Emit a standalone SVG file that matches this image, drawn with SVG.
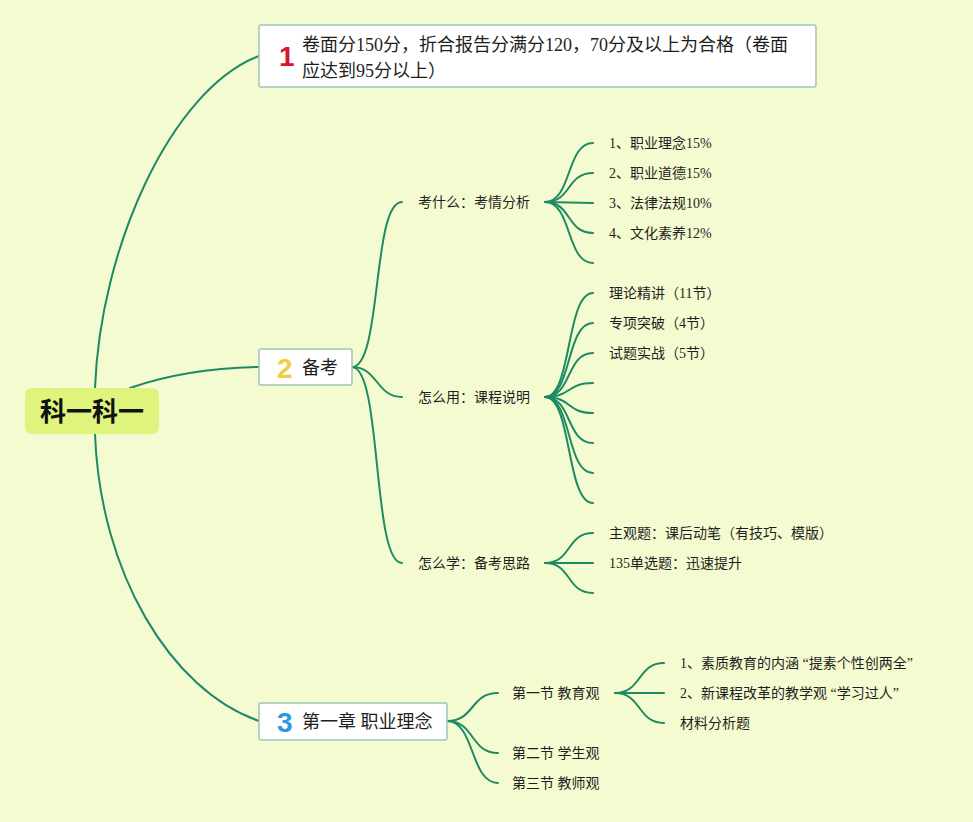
<svg xmlns="http://www.w3.org/2000/svg" width="973" height="822" viewBox="0 0 973 822">
<style>
.bg{fill:#F5FBD1}
.c{fill:none;stroke:#1E8A63;stroke-width:2;stroke-linecap:round}
.box{fill:#FFFFFF;stroke:#A3C4B6;stroke-width:1.5}
.t{font-family:"Liberation Serif","Noto Sans CJK SC",serif;fill:#1E1E1E}
.s{font-size:14px}
.m{font-size:18px}
.num{font-family:"Liberation Sans","DejaVu Sans",sans-serif;font-weight:900;font-size:28px}
.root{font-family:"Noto Sans CJK SC",sans-serif;font-weight:bold;font-size:26px;fill:#111}
</style>
<rect class="bg" x="0" y="0" width="973" height="822"/>
<g id="connectors">
<path class="c" d="M95,388 C100,250 170,90 259,56"/>
<path class="c" d="M130,388 C170,374 210,368 259,367"/>
<path class="c" d="M95,434 C100,572 170,690 259,721"/>
<path class="c" d="M352,367 C382,367 372,202 402,202"/>
<path class="c" d="M352,367 C378,367 376,397 402,397"/>
<path class="c" d="M352,367 C382,367 372,563 402,563"/>
<path class="c" d="M545,202 C572,202 566,143 593,143"/>
<path class="c" d="M545,202 C572,202 566,173 593,173"/>
<path class="c" d="M545,202 L593,203"/>
<path class="c" d="M545,202 C572,202 566,233 593,233"/>
<path class="c" d="M545,202 C572,202 566,263 593,263"/>
<path class="c" d="M545,397 C572,397 566,293 593,293"/>
<path class="c" d="M545,397 C572,397 566,323 593,323"/>
<path class="c" d="M545,397 C572,397 566,353 593,353"/>
<path class="c" d="M545,397 C572,397 566,383 593,383"/>
<path class="c" d="M545,397 C572,397 566,413 593,413"/>
<path class="c" d="M545,397 C572,397 566,443 593,443"/>
<path class="c" d="M545,397 C572,397 566,473 593,473"/>
<path class="c" d="M545,397 C572,397 566,503 593,503"/>
<path class="c" d="M545,563 C572,563 566,533 593,533"/>
<path class="c" d="M545,563 L593,563"/>
<path class="c" d="M545,563 C572,563 566,593 593,593"/>
<path class="c" d="M447,721 C475,721 470,693 498,693"/>
<path class="c" d="M447,721 C475,721 470,753 498,753"/>
<path class="c" d="M447,721 C475,721 470,783 498,783"/>
<path class="c" d="M615,693 C642,693 637,663 664,663"/>
<path class="c" d="M615,693 L664,693"/>
<path class="c" d="M615,693 C642,693 637,723 664,723"/>
</g>
<g id="root">
<rect x="25" y="388" width="134" height="46" rx="7" fill="#DEF47D"/>
<text class="root" x="92" y="421" text-anchor="middle">科一科一</text>
</g>
<g id="node1">
<rect class="box" x="259" y="25" width="557" height="62" rx="2"/>
<text class="num" x="279" y="66" fill="#D8142E">1</text>
<text class="t m" x="302" y="51">卷面分150分，折合报告分满分120，70分及以上为合格（卷面</text>
<text class="t m" x="302" y="77">应达到95分以上）</text>
</g>
<g id="node2">
<rect class="box" x="259" y="349" width="93" height="36" rx="2"/>
<text class="num" x="277" y="378" fill="#F2CE3F">2</text>
<text class="t m" x="302" y="374">备考</text>
</g>
<g id="node3">
<rect class="box" x="259" y="703" width="188" height="37" rx="2"/>
<text class="num" x="277" y="732" fill="#2A9AE0">3</text>
<text class="t m" x="302" y="728">第一章 职业理念</text>
</g>
<g id="n-kao"><text class="t s" x="418" y="207">考什么：考情分析</text></g>
<g id="n-yong"><text class="t s" x="418" y="402">怎么用：课程说明</text></g>
<g id="n-xue"><text class="t s" x="418" y="568">怎么学：备考思路</text></g>
<g id="k1"><text class="t s" x="609" y="148">1、职业理念15%</text></g>
<g id="k2"><text class="t s" x="609" y="178">2、职业道德15%</text></g>
<g id="k3"><text class="t s" x="609" y="208">3、法律法规10%</text></g>
<g id="k4"><text class="t s" x="609" y="238">4、文化素养12%</text></g>
<g id="y1"><text class="t s" x="609" y="298">理论精讲（11节）</text></g>
<g id="y2"><text class="t s" x="609" y="328">专项突破（4节）</text></g>
<g id="y3"><text class="t s" x="609" y="358">试题实战（5节）</text></g>
<g id="x1"><text class="t s" x="609" y="538">主观题：课后动笔（有技巧、模版）</text></g>
<g id="x2"><text class="t s" x="609" y="568">135单选题：迅速提升</text></g>
<g id="s1"><text class="t s" x="512" y="698">第一节 教育观</text></g>
<g id="s2"><text class="t s" x="512" y="758">第二节 学生观</text></g>
<g id="s3"><text class="t s" x="512" y="788">第三节 教师观</text></g>
<g id="e1"><text class="t s" x="680" y="668">1、素质教育的内涵 “提素个性创两全”</text></g>
<g id="e2"><text class="t s" x="680" y="698">2、新课程改革的教学观 “学习过人”</text></g>
<g id="e3"><text class="t s" x="680" y="728">材料分析题</text></g>
</svg>
